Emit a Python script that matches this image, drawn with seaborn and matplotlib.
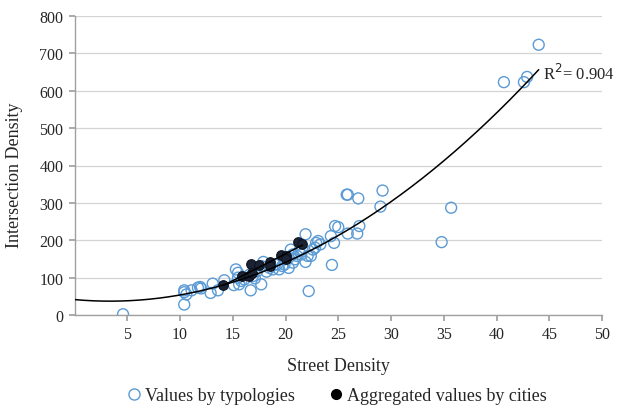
import numpy as np
import pandas as pd
import matplotlib
matplotlib.use("Agg")
import matplotlib.pyplot as plt
import seaborn as sns
from matplotlib.lines import Line2D

# Street density vs intersection density, one point per typology
typology_street = [
    4.6, 10.4, 10.4, 10.4, 10.6, 11.1, 11.7, 11.9, 12.0, 13.1, 12.9, 13.6, 14.2,
    15.1, 15.3, 15.5, 15.6, 16.1, 16.7, 16.9, 17.1, 17.7, 17.9, 18.2, 18.8, 19.2,
    19.4, 19.7, 20.3, 20.5, 20.7, 20.9, 21.1, 21.5, 21.9, 21.9, 22.1, 22.2, 22.4,
    22.8, 22.9, 23.1, 23.3, 24.3, 24.4, 24.6, 24.7, 25.0, 25.8, 25.9, 25.9, 26.8,
    26.9, 27.0, 29.0, 29.2, 34.8, 35.7, 40.7, 42.6, 42.9, 44.0,
    15.5, 15.8, 16.6, 17.3, 17.7, 18.5, 19.0, 19.9, 19.9, 20.3, 20.7, 21.3, 21.6,
    22.6,
]
typology_intersection = [
    2, 28, 61, 66, 55, 66, 73, 75, 71, 84, 59, 66, 93,
    80, 122, 113, 82, 95, 66, 104, 98, 82, 142, 116, 122, 135,
    122, 131, 126, 175, 140, 149, 158, 162, 216, 142, 158, 64, 158,
    180, 193, 198, 189, 211, 134, 193, 238, 235, 322, 322, 218, 218,
    312, 238, 290, 333, 195, 287, 623, 623, 637, 723,
    100, 91, 108, 117, 131, 126, 135, 149, 135, 153, 162, 171, 175,
    175,
]

# Aggregated values, one point per city
city_street = [14.1, 15.9, 16.5, 16.7, 16.8, 17.5, 18.5, 18.5, 19.6, 20.0, 20.0, 21.2, 21.6]
city_intersection = [79, 104, 104, 137, 113, 134, 142, 131, 160, 158, 151, 195, 189]

r_squared_label = "R$^2$= 0.904"
x_ticks = [5, 10, 15, 20, 25, 30, 35, 40, 45, 50]
y_ticks = [0, 100, 200, 300, 400, 500, 600, 700, 800]

blue = "#5B9BD5"

sns.set_theme(style="white")
plt.rcParams["font.family"] = ["Liberation Serif", "DejaVu Serif"]

fig = plt.figure(figsize=(6.17, 4.10), dpi=100)
ax = fig.add_axes([74.5 / 617, 1 - 316 / 410, (602 - 74.5) / 617, (316 - 17) / 410])

typ = pd.DataFrame({"street": typology_street, "inter": typology_intersection})
city = pd.DataFrame({"street": city_street, "inter": city_intersection})

sns.scatterplot(data=typ, x="street", y="inter", ax=ax, s=62, marker="o",
                facecolor="none", edgecolor=blue, linewidth=1.0, zorder=3)
sns.scatterplot(data=city, x="street", y="inter", ax=ax, s=48, marker="o",
                color="#1b2233", edgecolor="#0d1220", linewidth=0.8, zorder=4)

# Polynomial (order 2) trend over the typology points
coef = np.polyfit(typ["street"], typ["inter"], 2)
xs = np.linspace(0, 44.0, 300)
ax.plot(xs, np.polyval(coef, xs), color="black", lw=1.1, zorder=5)

# Linear trend through the city aggregates
ccoef = np.polyfit(city["street"], city["inter"], 1)
xc = np.linspace(min(city_street), max(city_street), 50)
ax.plot(xc, np.polyval(ccoef, xc), color="black", lw=1.1, zorder=5)

ax.text(44.4, np.polyval(coef, 44.0) - 10, r_squared_label, fontsize=12,
        ha="left", va="center")

ax.set_xlim(0, 50)
ax.set_ylim(0, 800)
ax.set_xticks(x_ticks)
ax.set_yticks(y_ticks)
ax.tick_params(axis="both", labelsize=11.5, length=4, color="#a0a0a0",
               direction="out", bottom=True, left=True, pad=4)
ax.yaxis.grid(True, color="#d4d4d4", lw=0.9)
ax.xaxis.grid(False)
for side in ("top", "right"):
    ax.spines[side].set_visible(False)
for side in ("left", "bottom"):
    ax.spines[side].set_color("#a0a0a0")
    ax.spines[side].set_linewidth(1.0)

ax.set_xlabel("Street Density", fontsize=13, labelpad=11)
ax.set_ylabel("Intersection Density", fontsize=13)
ax.yaxis.set_label_coords(-0.098, 0.47)

handles = [
    Line2D([], [], ls="none", marker="o", markersize=8, markerfacecolor="none",
           markeredgecolor=blue, markeredgewidth=1.0),
    Line2D([], [], ls="none", marker="o", markersize=7, markerfacecolor="black",
           markeredgecolor="black"),
]
fig.legend(handles, ["Values by typologies", "Aggregated values by cities"],
           loc="center", bbox_to_anchor=(336 / 617, 1 - 397 / 410), ncol=2,
           frameon=False, fontsize=13, handletextpad=0.1, columnspacing=1.8,
           handlelength=1.0)

fig.savefig("out.png", dpi=100)
